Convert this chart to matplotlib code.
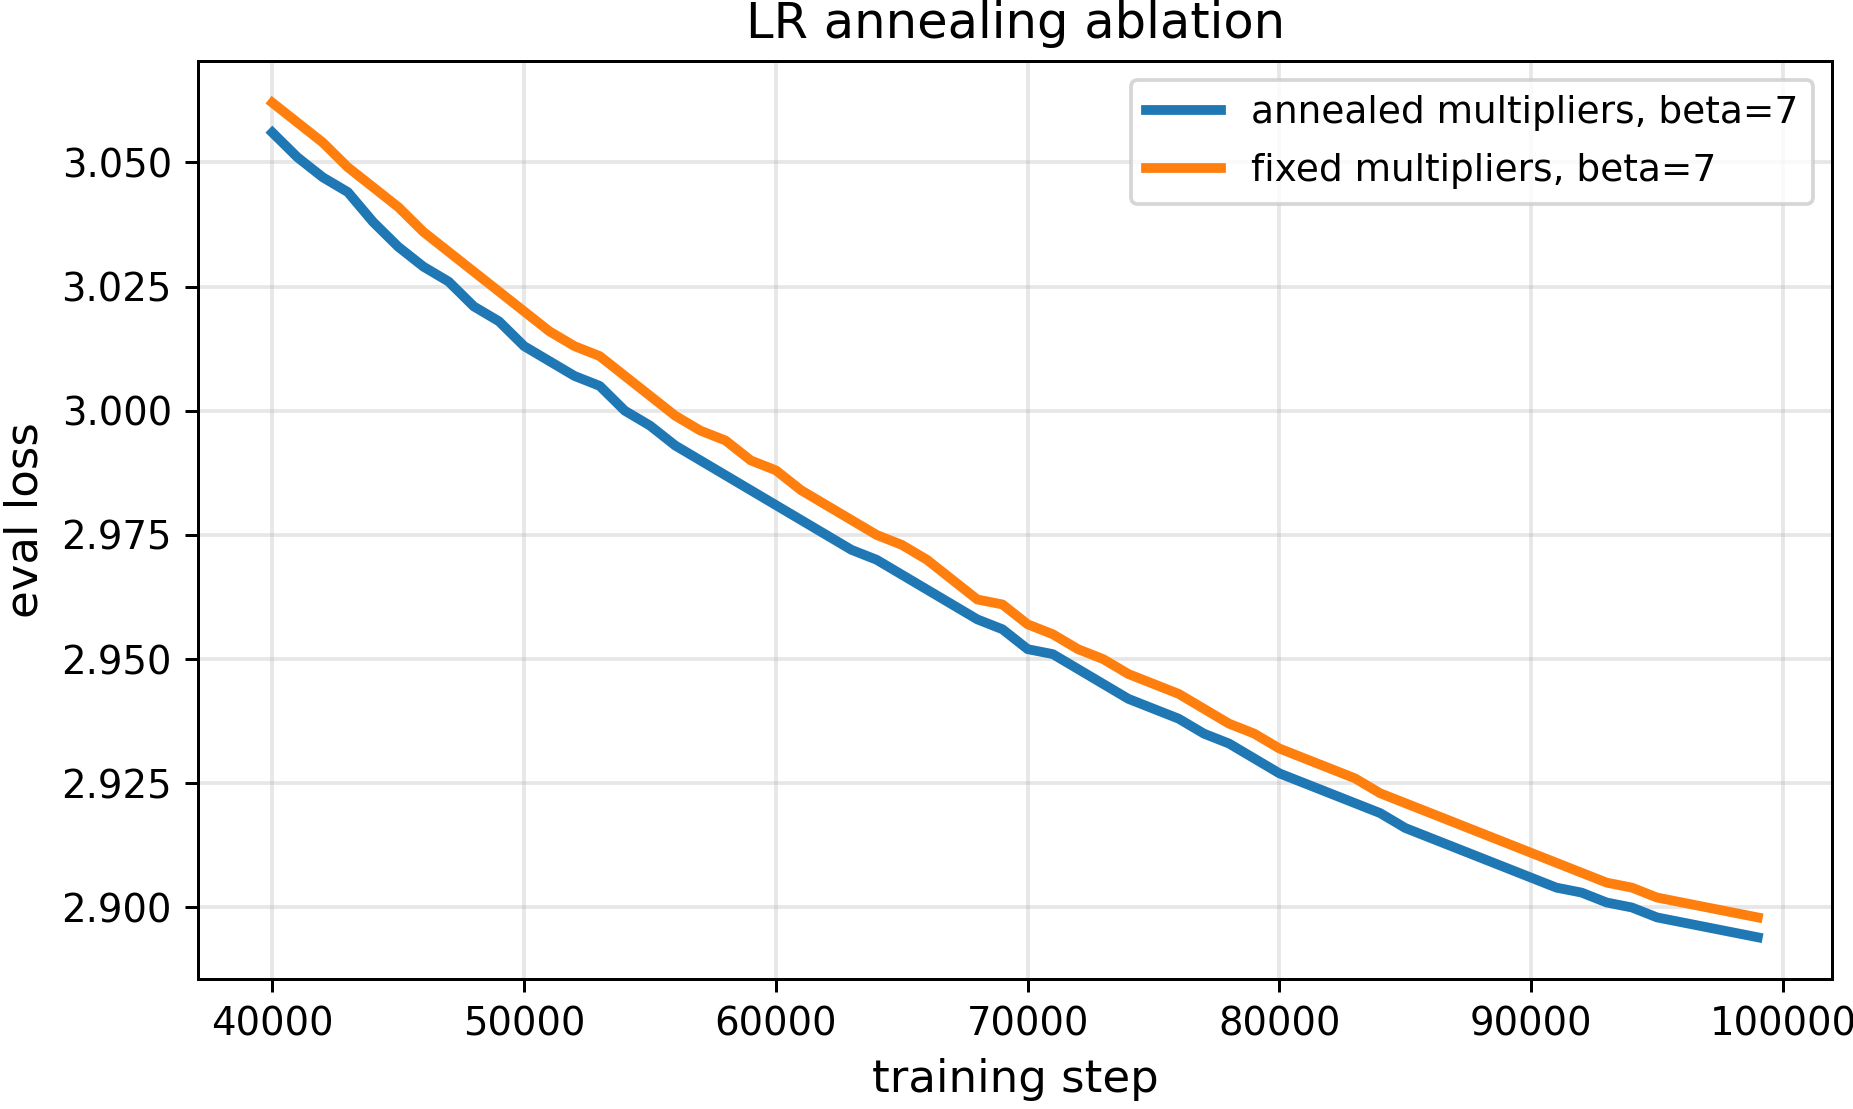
import numpy as np
import matplotlib
matplotlib.use('Agg')
import matplotlib.pyplot as plt

# eval loss every 1000 steps
steps = list(range(40000, 100000, 1000))

annealed = [3.056, 3.051, 3.047, 3.044, 3.038, 3.033, 3.029, 3.026, 3.021, 3.018,
            3.013, 3.010, 3.007, 3.005, 3.000, 2.997, 2.993, 2.990, 2.987, 2.984,
            2.981, 2.978, 2.975, 2.972, 2.970, 2.967, 2.964, 2.961, 2.958, 2.956,
            2.952, 2.951, 2.948, 2.945, 2.942, 2.940, 2.938, 2.935, 2.933, 2.930,
            2.927, 2.925, 2.923, 2.921, 2.919, 2.916, 2.914, 2.912, 2.910, 2.908,
            2.906, 2.904, 2.903, 2.901, 2.900, 2.898, 2.897, 2.896, 2.895, 2.894]

fixed = [3.062, 3.058, 3.054, 3.049, 3.045, 3.041, 3.036, 3.032, 3.028, 3.024,
         3.020, 3.016, 3.013, 3.011, 3.007, 3.003, 2.999, 2.996, 2.994, 2.990,
         2.988, 2.984, 2.981, 2.978, 2.975, 2.973, 2.970, 2.966, 2.962, 2.961,
         2.957, 2.955, 2.952, 2.950, 2.947, 2.945, 2.943, 2.940, 2.937, 2.935,
         2.932, 2.930, 2.928, 2.926, 2.923, 2.921, 2.919, 2.917, 2.915, 2.913,
         2.911, 2.909, 2.907, 2.905, 2.904, 2.902, 2.901, 2.900, 2.899, 2.898]

labels = ['annealed multipliers, beta=7', 'fixed multipliers, beta=7']

fig = plt.figure(figsize=(1853 / 270, 1109 / 270), dpi=270)
ax = fig.add_axes([0.1069, 0.1172, 0.8818, 0.8278])

ax.plot(steps, annealed, color='#1f77b4', linewidth=2.6, label=labels[0])
ax.plot(steps, fixed, color='#ff7f0e', linewidth=2.6, label=labels[1])

ax.set_title('LR annealing ablation', fontsize=13.2)
ax.set_xlabel('training step', fontsize=12)
ax.set_ylabel('eval loss', fontsize=12)
ax.set_yticks([2.900, 2.925, 2.950, 2.975, 3.000, 3.025, 3.050])
ax.set_yticklabels(['2.900', '2.925', '2.950', '2.975', '3.000', '3.025', '3.050'])
ax.tick_params(labelsize=10.3)
ax.grid(True, alpha=0.3, linewidth=1.0)
ax.legend(loc='upper right', fontsize=10, labelspacing=0.6)

fig.savefig('out.png', dpi=270)
